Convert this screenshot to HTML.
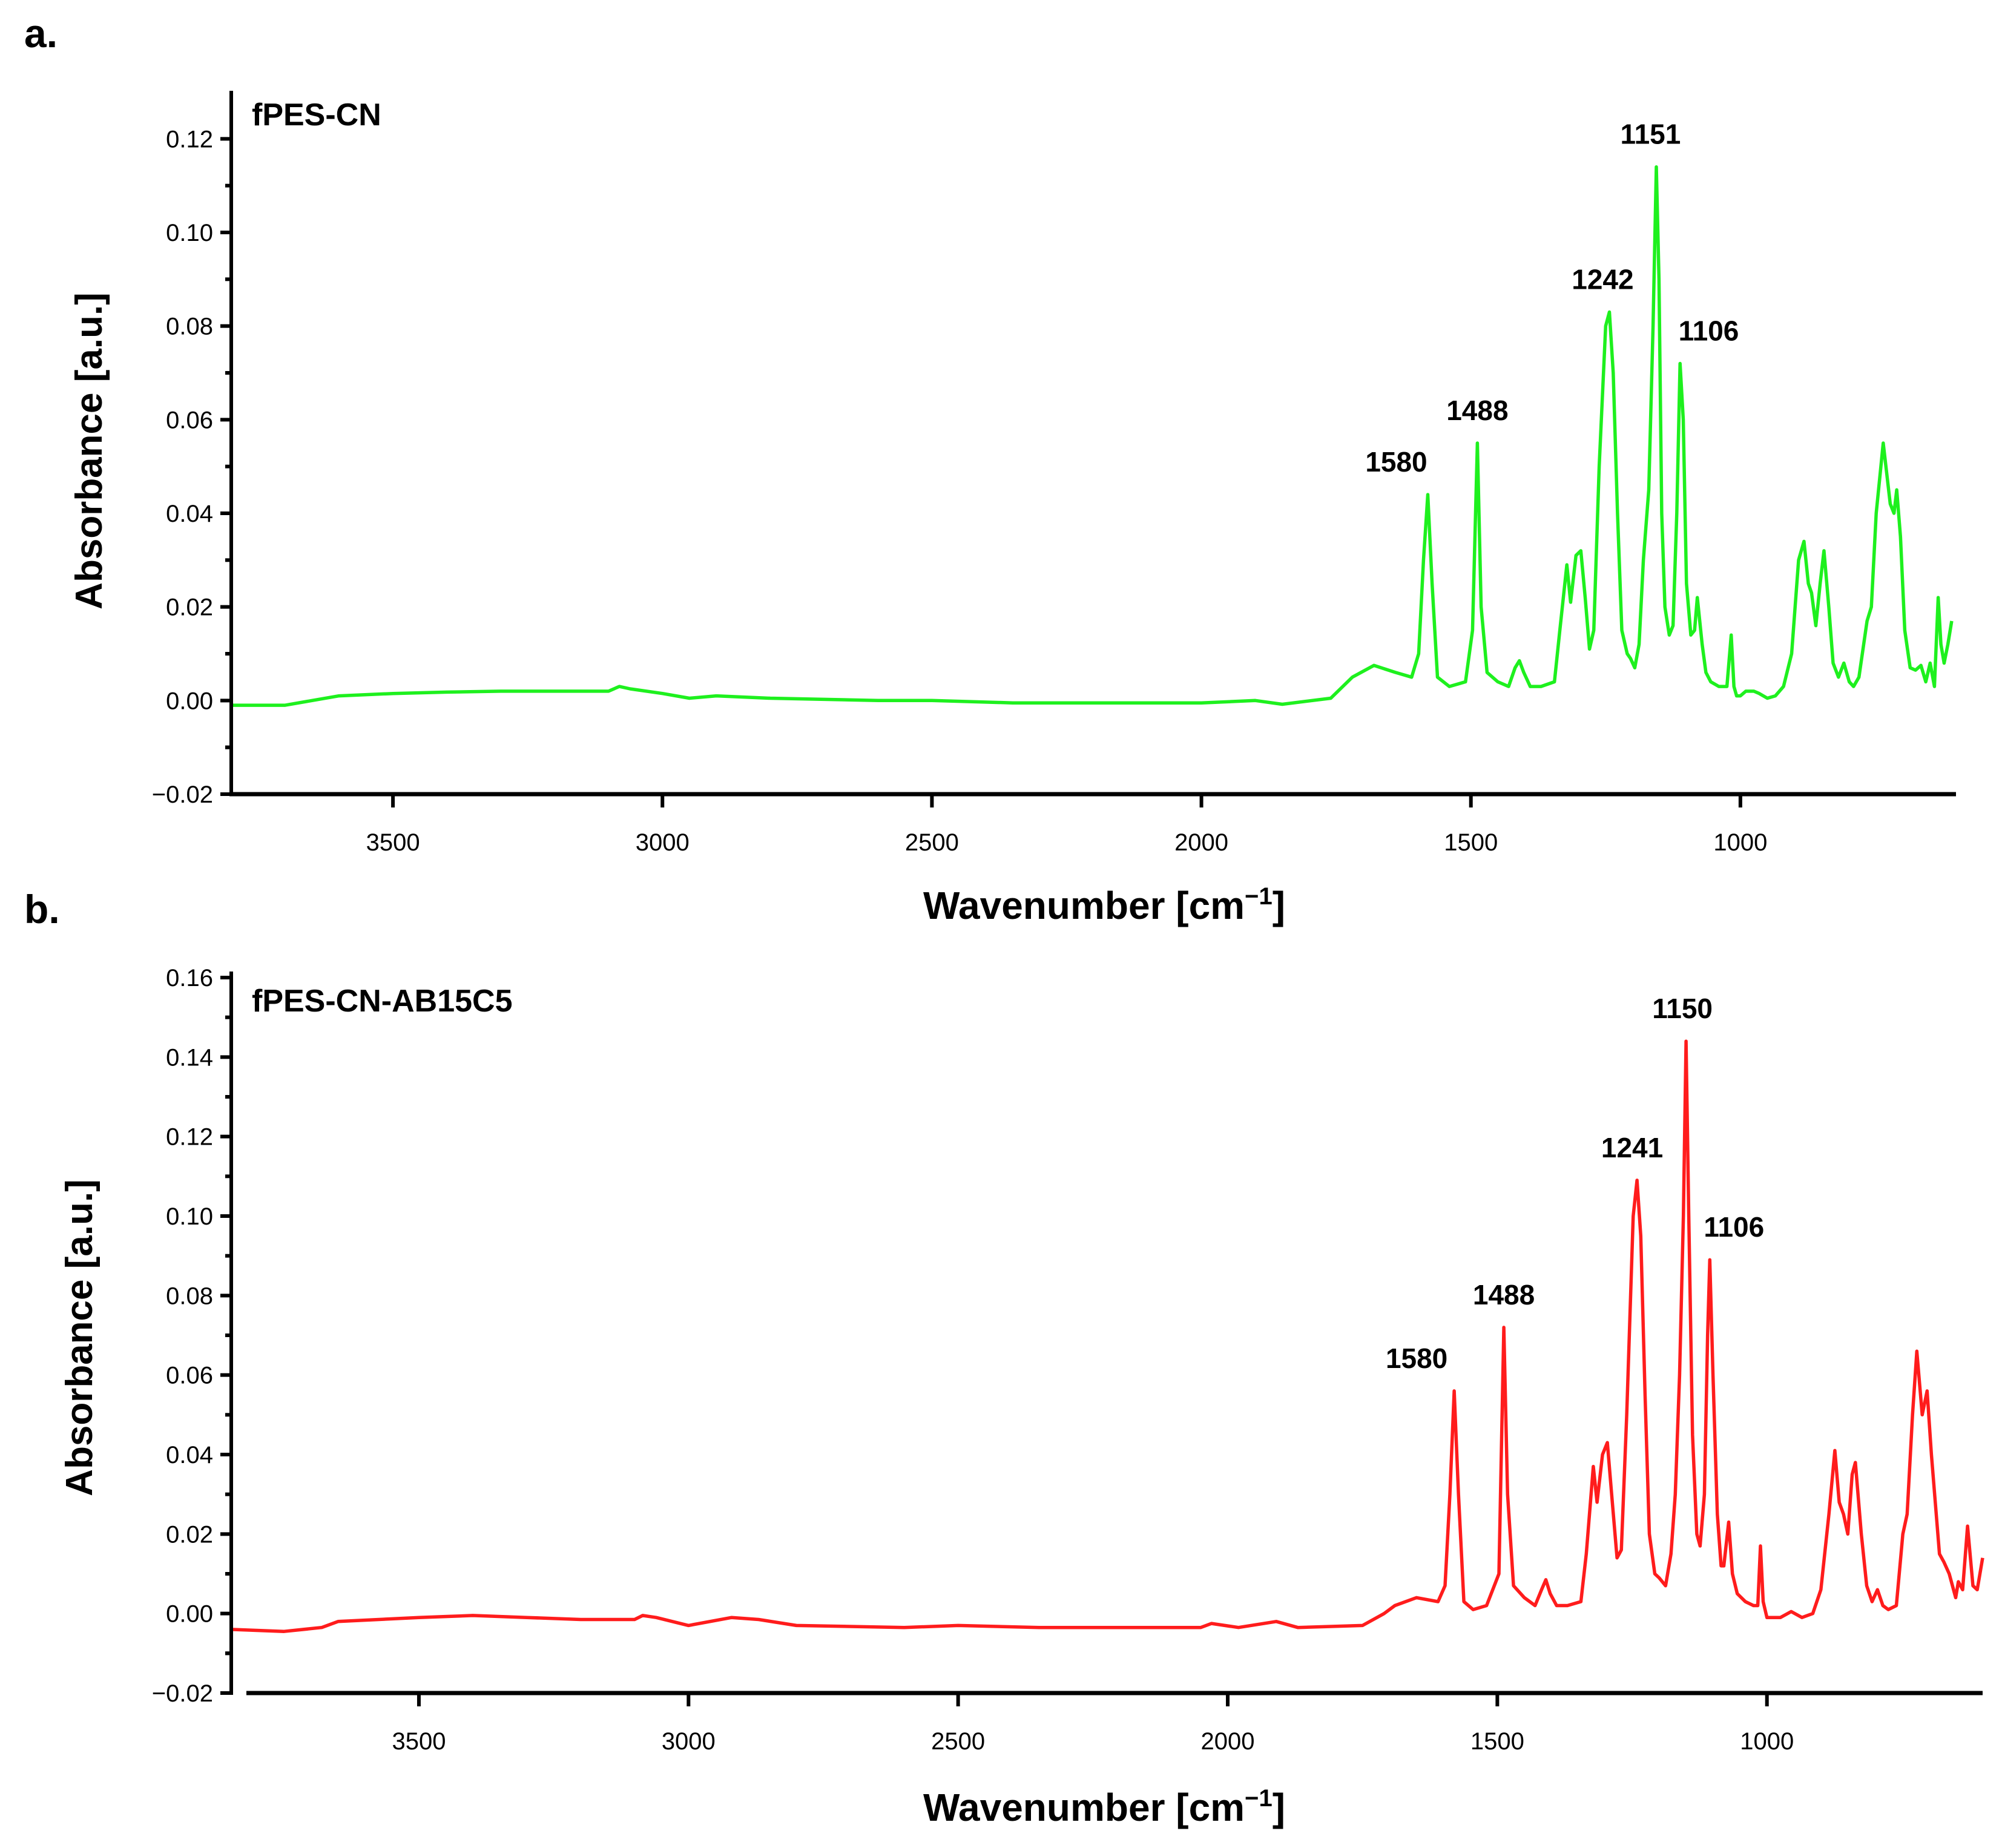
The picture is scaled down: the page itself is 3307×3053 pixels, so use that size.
<!DOCTYPE html>
<html><head><meta charset="utf-8">
<style>
html,body{margin:0;padding:0;background:#fff;}
svg{display:block;font-family:"Liberation Sans",sans-serif;}
</style></head>
<body>
<svg id="fig" width="3307" height="3053" viewBox="0 0 3307 3053" xmlns="http://www.w3.org/2000/svg">
<rect width="3307" height="3053" fill="#fff"/>
<g id="pa"></g>
<g id="pb"></g>
</svg>
<script>
// Panel a data (fPES-CN)
const waveA = [3800,3700,3650,3600,3500,3400,3300,3200,3100,3080,3060,3000,2950,2900,2800,2600,2500,2350,2200,2000,1900,1850,1760,1720,1680,1640,1610,1597,1588,1580,1572,1562,1540,1510,1497,1488,1481,1470,1450,1430,1418,1410,1402,1390,1370,1345,1335,1322,1315,1305,1296,1288,1280,1272,1262,1250,1243,1236,1228,1220,1210,1204,1196,1188,1180,1170,1162,1156,1151,1146,1140,1132,1125,1118,1112,1106,1100,1092,1085,1080,1071,1064,1055,1040,1025,1017,1012,1007,1000,990,975,965,950,935,920,905,892,882,874,868,860,852,845,836,828,818,808,798,790,780,765,757,748,735,722,715,710,703,695,685,675,665,656,648,640,633,628,622,615,608,601];
const absA  = [-0.001,-0.001,0.0,0.001,0.0015,0.0018,0.002,0.002,0.002,0.003,0.0025,0.0015,0.0005,0.001,0.0005,0.0,0.0,-0.0005,-0.0005,-0.0005,0.0,-0.0008,0.0005,0.005,0.0075,0.006,0.005,0.01,0.03,0.044,0.025,0.005,0.003,0.004,0.015,0.055,0.02,0.006,0.004,0.003,0.007,0.0085,0.006,0.003,0.003,0.004,0.015,0.029,0.021,0.031,0.032,0.022,0.011,0.015,0.05,0.08,0.083,0.07,0.04,0.015,0.01,0.009,0.007,0.012,0.03,0.045,0.08,0.114,0.09,0.04,0.02,0.014,0.016,0.04,0.072,0.06,0.025,0.014,0.015,0.022,0.012,0.006,0.004,0.003,0.003,0.014,0.003,0.001,0.001,0.002,0.002,0.0015,0.0005,0.001,0.003,0.01,0.03,0.034,0.025,0.023,0.016,0.025,0.032,0.02,0.008,0.005,0.008,0.004,0.003,0.005,0.017,0.02,0.04,0.055,0.042,0.04,0.045,0.035,0.015,0.007,0.0065,0.0075,0.004,0.008,0.003,0.022,0.012,0.008,0.012,0.017];
const labelsA = ["1580","1488","1242","1151","1106"];
const labelWaveA = [1580,1488,1242,1151,1106];
const labelAbsA = [0.044,0.055,0.083,0.114,0.072];

// Panel b data (fPES-CN-AB15C5)
const waveB = [3848,3750,3680,3650,3500,3400,3300,3200,3100,3085,3060,3000,2920,2870,2800,2600,2500,2350,2200,2050,2030,1980,1910,1870,1750,1710,1690,1650,1610,1597,1588,1580,1572,1562,1545,1520,1497,1488,1481,1470,1450,1430,1418,1410,1402,1390,1370,1345,1335,1322,1315,1305,1296,1288,1278,1270,1260,1248,1241,1234,1226,1218,1208,1200,1188,1178,1170,1162,1155,1150,1145,1138,1130,1124,1116,1110,1106,1100,1092,1085,1080,1071,1064,1055,1040,1025,1017,1012,1007,1000,990,975,955,935,915,900,885,874,866,858,850,842,836,825,815,805,795,785,775,760,748,740,730,722,712,703,695,680,672,662,650,645,637,628,618,610,600];
const absB  = [-0.004,-0.0045,-0.0035,-0.002,-0.001,-0.0005,-0.001,-0.0015,-0.0015,-0.0005,-0.001,-0.003,-0.001,-0.0015,-0.003,-0.0035,-0.003,-0.0035,-0.0035,-0.0035,-0.0025,-0.0035,-0.002,-0.0035,-0.003,0.0,0.002,0.004,0.003,0.007,0.03,0.056,0.03,0.003,0.001,0.002,0.01,0.072,0.03,0.007,0.004,0.002,0.006,0.0085,0.005,0.002,0.002,0.003,0.015,0.037,0.028,0.04,0.043,0.03,0.014,0.016,0.05,0.1,0.109,0.095,0.055,0.02,0.01,0.009,0.007,0.015,0.03,0.06,0.1,0.144,0.1,0.045,0.02,0.017,0.03,0.07,0.089,0.06,0.025,0.012,0.012,0.023,0.01,0.005,0.003,0.002,0.002,0.017,0.003,-0.001,-0.001,-0.001,0.0005,-0.001,0.0,0.006,0.025,0.041,0.028,0.025,0.02,0.035,0.038,0.02,0.007,0.003,0.006,0.002,0.001,0.002,0.02,0.025,0.05,0.066,0.05,0.056,0.04,0.015,0.013,0.01,0.004,0.008,0.006,0.022,0.007,0.006,0.014];
const labelsB = ["1580","1488","1241","1150","1106"];
const labelWaveB = [1580,1488,1241,1150,1106];
const labelAbsB = [0.056,0.072,0.109,0.144,0.089];

const xTickVals = [3500,3000,2500,2000,1500,1000];
const yTickValsA = [-0.02,0.00,0.02,0.04,0.06,0.08,0.10,0.12];
const yTickValsB = [-0.02,0.00,0.02,0.04,0.06,0.08,0.10,0.12,0.14,0.16];

const NS = "http://www.w3.org/2000/svg";
function mk(parent, tag, attrs, text){
  const e = document.createElementNS(NS, tag);
  for (const k in attrs) e.setAttribute(k, attrs[k]);
  if (text !== undefined) e.textContent = text;
  parent.appendChild(e);
  return e;
}

function drawPanel(g, cfg){
  const xS = v => cfg.x0 + (cfg.wMax - v)/(cfg.wMax - cfg.wMin)*(cfg.x1 - cfg.x0);
  const yS = v => cfg.yBase - (v - cfg.vMin)/(cfg.vMax - cfg.vMin)*(cfg.yBase - cfg.yTop);

  let d = "";
  cfg.wave.forEach((w,i)=>{ d += (i?"L":"M") + xS(w).toFixed(1) + " " + yS(cfg.abs[i]).toFixed(1); });
  const p = mk(g,"path",{d:d,fill:"none",stroke:cfg.color,"stroke-width":5.5,"stroke-linejoin":"round"});
  
  

  const ya = mk(g,"line",{x1:cfg.x0,y1:cfg.axTop,x2:cfg.x0,y2:cfg.yBase+3,stroke:"#000","stroke-width":6});
  
  
  const xa = mk(g,"line",{x1:cfg.xAxStart,y1:cfg.yBase,x2:cfg.x1,y2:cfg.yBase,stroke:"#000","stroke-width":7});
  
  

  cfg.yTicks.forEach(v=>{
    const y = yS(v);
    const t = mk(g,"line",{x1:cfg.x0-18,y1:y,x2:cfg.x0,y2:y,stroke:"#000","stroke-width":6});
    
    
    if (yS(v+0.01) > cfg.axTop + 4) {
      const m = mk(g,"line",{x1:cfg.x0-10,y1:yS(v+0.01),x2:cfg.x0,y2:yS(v+0.01),stroke:"#000","stroke-width":6});
      
      
    }
    const l = mk(g,"text",{x:cfg.x0-30,y:y+14,"text-anchor":"end","font-size":40,fill:"#000"}, v.toFixed(2).replace("-","\u2212"));
    
    
  });
  const extra = mk(g,"line",{x1:cfg.x0-10,y1:yS(-0.01),x2:cfg.x0,y2:yS(-0.01),stroke:"#000","stroke-width":6});
  
  

  xTickVals.forEach(v=>{
    const x = xS(v);
    const t = mk(g,"line",{x1:x,y1:cfg.yBase,x2:x,y2:cfg.yBase+22,stroke:"#000","stroke-width":6});
    
    
    const l = mk(g,"text",{x:x,y:cfg.yBase+93,"text-anchor":"middle","font-size":40,fill:"#000"}, String(v));
    
    
  });

  cfg.labels.forEach((s,i)=>{
    const l = mk(g,"text",{x:xS(cfg.labelWave[i]) + cfg.labelDx[i], y:yS(cfg.labelAbs[i]) - 38,"text-anchor":"middle","font-size":46,"font-weight":"bold",fill:"#000"}, s);
    
    
  });

  const sn = mk(g,"text",{x:cfg.x0+34,y:cfg.sampleY,"font-size":52,"font-weight":"bold",fill:"#000"}, cfg.sample);
  
  

  const xt = mk(g,"text",{x:1824,y:cfg.xTitleY,"text-anchor":"middle","font-size":64,"font-weight":"bold",fill:"#000"});
  
  
  xt.appendChild(document.createTextNode("Wavenumber [cm"));
  mk(xt,"tspan",{dy:-24,"font-size":40},"\u22121");
  mk(xt,"tspan",{dy:24},"]");

  const yt = mk(g,"text",{x:0,y:0,transform:`translate(${cfg.yTitleX},${cfg.yTitleY}) rotate(-90)`,"text-anchor":"middle","font-size":62,"font-weight":"bold",fill:"#000"},"Absorbance [a.u.]");
  
  

  const pl = mk(g,"text",{x:40,y:cfg.panelY,"font-size":66,"font-weight":"bold",fill:"#000"}, cfg.panel);
  
  
}

drawPanel(document.getElementById("pa"), {
  name:"panel-a", color:"#1ef01e", wave:waveA, abs:absA,
  x0:382, x1:3231, xAxStart:379, wMax:3800, wMin:600,
  yBase:1312, yTop:152, axTop:150, vMin:-0.02, vMax:0.13,
  yTicks:yTickValsA, labels:labelsA, labelWave:labelWaveA, labelAbs:labelAbsA,
  labelDx:[-52,0,-12,-14,42],
  sample:"fPES-CN", sampleY:207, xTitleY:1518, yTitleX:168, yTitleY:745, panel:"a.", panelY:78
});
drawPanel(document.getElementById("pb"), {
  name:"panel-b", color:"#ff1c1c", wave:waveB, abs:absB,
  x0:382, x1:3275, xAxStart:407, wMax:3848, wMin:600,
  yBase:2797, yTop:1615, axTop:1605, vMin:-0.02, vMax:0.16,
  yTicks:yTickValsB, labels:labelsB, labelWave:labelWaveB, labelAbs:labelAbsB,
  labelDx:[-62,0,-8,-6,40],
  sample:"fPES-CN-AB15C5", sampleY:1671, xTitleY:3008, yTitleX:152, yTitleY:2210, panel:"b.", panelY:1525
});
</script>
</body></html>
